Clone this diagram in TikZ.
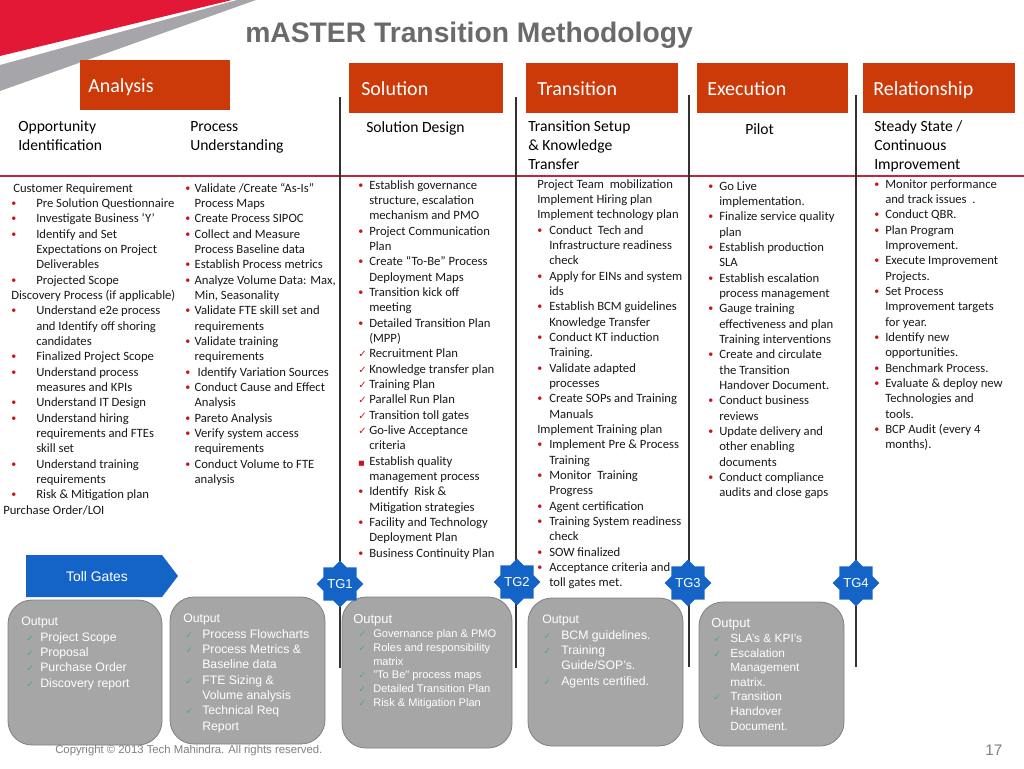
\documentclass[tikz,border=0pt]{standalone}
\usepackage{fontspec}
\setmainfont{Carlito}
\newfontfamily\arial{Liberation Sans}
\newfontfamily\dejavu{DejaVu Sans}
\usetikzlibrary{shapes.geometric}
\newdimen\px \px=0.75pt
\definecolor{tmred}{RGB}{227,24,55}
\definecolor{swgray}{RGB}{165,165,170}
\definecolor{hdr}{RGB}{204,58,10}
\definecolor{titlegray}{RGB}{106,106,106}
\definecolor{bred}{RGB}{200,20,30}
\definecolor{tgblue}{RGB}{20,100,200}
\definecolor{outgray}{RGB}{166,166,166}
\definecolor{outedge}{RGB}{128,128,128}
\definecolor{chk}{RGB}{79,166,150}
\definecolor{rulered}{RGB}{190,40,60}
\definecolor{linegray}{RGB}{50,50,50}
\newcommand\bu[2]{\makebox[#1\px][l]{\textcolor{bred}{\raisebox{0.7pt}{\fontsize{7.5}{8}\selectfont\textbullet}}}#2}
\newcommand\bsq[2]{\makebox[#1\px][l]{\textcolor{bred}{\dejavu\fontsize{5}{6}\selectfont ■}}#2}
\newcommand\ck[2]{\makebox[#1\px][l]{\textcolor{bred}{\dejavu\fontsize{7.5}{8}\selectfont ✓}}#2}
\newcommand\cn[2]{\hspace*{#1\px}#2}
\newcommand\ok[3]{\hspace*{#1\px}\makebox[#2\px][l]{\textcolor{chk}{\dejavu\fontsize{7}{8}\selectfont ✓}}#3}
\newcommand\oc[2]{\hspace*{#1\px}#2}
\begin{document}
\begin{tikzpicture}[x=0.75pt,y=-0.75pt,
  colbody/.style={anchor=north west, inner sep=0pt, align=left, font=\fontsize{9.5}{11.5}\selectfont, text=black!90},
  subhead/.style={anchor=north west, inner sep=0pt, align=left, font=\fontsize{11.7}{14.25}\selectfont, text=black},
  hdrbox/.style={anchor=north west, fill=hdr, draw=none, inner sep=0pt, minimum height=37.5pt},
  hdrlab/.style={anchor=base west, inner sep=0pt, text=white, font=\fontsize{15}{18}\selectfont},
  outbox/.style={fill=outgray, draw=outedge, line width=0.6pt, rounded corners=18pt, inner sep=0pt},
  outtxt/.style={anchor=north west, inner sep=0pt, align=left, text=white},
  tgstar/.style={star, star points=8, star point ratio=1.31, fill=tgblue, draw=none, minimum size=33pt, inner sep=0pt, text=white, font=\arial\fontsize{9.75}{10}\selectfont},
  vline/.style={draw=linegray, line width=1.1pt}
]
\useasboundingbox (0,0) rectangle (1024,768);
\fill[white] (0,0) rectangle (1024,768);
% swoosh
\fill[tmred] (0,0) -- (232,0) -- (0,56) -- cycle;
\fill[swgray] (237,0) -- (256,0) -- (0,91) -- (0,65) -- cycle;
% title
\node[anchor=base west, inner sep=0pt, font=\arial\bfseries\fontsize{21.2}{24}\selectfont, text=titlegray] (title) at (245,42) {mASTER Transition Methodology};
% red rule
\coordinate (rl) at (0,176);
\coordinate (rr) at (1024,176);
\draw[draw=rulered, line width=0.8pt] (rl) -- (rr);
% vertical lines
\coordinate (v1t) at (340,97);  \coordinate (v1b) at (340,668);
\coordinate (v2t) at (516,97);  \coordinate (v2b) at (516,668);
\coordinate (v3t) at (689,95);  \coordinate (v3b) at (689,667);
\coordinate (v4t) at (856,95);  \coordinate (v4b) at (856,667);
\draw[vline] (v1t) -- (v1b);
\draw[vline] (v2t) -- (v2b);
\draw[vline] (v3t) -- (v3b);
\draw[vline] (v4t) -- (v4b);
% header boxes
\node[hdrbox, minimum width=112.5pt] (hA) at (80,60) {};
\node[hdrbox, minimum width=115.5pt] (hS) at (349,63) {};
\node[hdrbox, minimum width=114pt] (hT) at (526,63) {};
\node[hdrbox, minimum width=113.25pt] (hE) at (697,63) {};
\node[hdrbox, minimum width=114pt] (hR) at (863,63) {};
\node[hdrlab] (lA) at (88,92) {Analysis};
\node[hdrlab] (lS) at (361,95) {Solution};
\node[hdrlab] (lT) at (537,95) {Transition};
\node[hdrlab] (lE) at (707,95) {Execution};
\node[hdrlab] (lR) at (873,95) {Relationship};
% sub headers
\node[subhead] (s1) at (18,118.4) {\strut Opportunity\\Identification};
\node[subhead] (s2) at (190,118.4) {\strut Process\\Understanding};
\node[subhead] (s3) at (366,119.4) {\strut Solution Design};
\node[subhead] (s4) at (528,118.4) {\strut Transition Setup\\\& Knowledge\\Transfer};
\node[subhead] (s5) at (745,121.4) {\strut Pilot};
\node[subhead] (s6) at (874,118.4) {\strut Steady State /\\Continuous\\Improvement};
% column 1
\node[colbody] (c1) at (11,181) {\strut\hspace*{2\px}Customer Requirement\\
\bu{25}{Pre Solution Questionnaire}\\
\bu{25}{Investigate Business ‘Y’}\\
\bu{25}{Identify and Set}\\
\cn{25}{Expectations on Project}\\
\cn{25}{Deliverables}\\
\bu{25}{Projected Scope}\\
Discovery Process (if applicable)\\
\bu{25}{Understand e2e process}\\
\cn{25}{and Identify off shoring}\\
\cn{25}{candidates}\\
\bu{25}{Finalized Project Scope}\\
\bu{25}{Understand process}\\
\cn{25}{measures and KPIs}\\
\bu{25}{Understand IT Design}\\
\bu{25}{Understand hiring}\\
\cn{25}{requirements and FTEs}\\
\cn{25}{skill set}\\
\bu{25}{Understand training}\\
\cn{25}{requirements}\\
\bu{25}{Risk \& Mitigation plan}\\
\hspace*{-8\px}Purchase Order/LOI};
% column 2
\node[colbody] (c2) at (185,181) {\strut\bu{9.3}{Validate /Create “As-Is”}\\
\cn{9.3}{Process Maps}\\
\bu{9.3}{Create Process SIPOC}\\
\bu{9.3}{Collect and Measure}\\
\cn{9.3}{Process Baseline data}\\
\bu{9.3}{Establish Process metrics}\\
\bu{9.3}{Analyze Volume Data: Max,}\\
\cn{9.3}{Min, Seasonality}\\
\bu{9.3}{Validate FTE skill set and}\\
\cn{9.3}{requirements}\\
\bu{9.3}{Validate training}\\
\cn{9.3}{requirements}\\
\bu{9.3}{\hspace*{3\px}Identify Variation Sources}\\
\bu{9.3}{Conduct Cause and Effect}\\
\cn{9.3}{Analysis}\\
\bu{9.3}{Pareto Analysis}\\
\bu{9.3}{Verify system access}\\
\cn{9.3}{requirements}\\
\bu{9.3}{Conduct Volume to FTE}\\
\cn{9.3}{analysis}};
% solution column
\node[colbody] (c3) at (358,178) {\strut\bu{11}{Establish governance}\\
\cn{11}{structure, escalation}\\
\cn{11}{mechanism and PMO}\\
\bu{11}{Project Communication}\\
\cn{11}{Plan}\\
\bu{11}{Create “To-Be” Process}\\
\cn{11}{Deployment Maps}\\
\bu{11}{Transition kick off}\\
\cn{11}{meeting}\\
\bu{11}{Detailed Transition Plan}\\
\cn{11}{(MPP)}\\
\ck{11}{Recruitment Plan}\\
\ck{11}{Knowledge transfer plan}\\
\ck{11}{Training Plan}\\
\ck{11}{Parallel Run Plan}\\
\ck{11}{Transition toll gates}\\
\ck{11}{Go-live Acceptance}\\
\cn{11}{criteria}\\
\bsq{11}{Establish quality}\\
\cn{11}{management process}\\
\bu{11}{Identify\ \ Risk \&}\\
\cn{11}{Mitigation strategies}\\
\bu{11}{Facility and Technology}\\
\cn{11}{Deployment Plan}\\
\bu{11}{Business Continuity Plan}};
% transition column
\node[colbody] (c4) at (537,177) {\strut Project Team\ \ mobilization\\
Implement Hiring plan\\
Implement technology plan\\
\bu{12}{Conduct\ \ Tech and}\\
\cn{12}{Infrastructure readiness}\\
\cn{12}{check}\\
\bu{12}{Apply for EINs and system}\\
\cn{12}{ids}\\
\bu{12}{Establish BCM guidelines}\\
\cn{12}{Knowledge Transfer}\\
\bu{12}{Conduct KT induction}\\
\cn{12}{Training.}\\
\bu{12}{Validate adapted}\\
\cn{12}{processes}\\
\bu{12}{Create SOPs and Training}\\
\cn{12}{Manuals}\\
Implement Training plan\\
\bu{12}{Implement Pre \& Process}\\
\cn{12}{Training}\\
\bu{12}{Monitor\ \ Training}\\
\cn{12}{Progress}\\
\bu{12}{Agent certification}\\
\bu{12}{Training System readiness}\\
\cn{12}{check}\\
\bu{12}{SOW finalized}\\
\bu{12}{Acceptance criteria and}\\
\cn{12}{toll gates met.}};
% execution column
\node[colbody] (c5) at (708,179) {\strut\bu{11}{Go Live}\\
\cn{11}{implementation.}\\
\bu{11}{Finalize service quality}\\
\cn{11}{plan}\\
\bu{11}{Establish production}\\
\cn{11}{SLA}\\
\bu{11}{Establish escalation}\\
\cn{11}{process management}\\
\bu{11}{Gauge training}\\
\cn{11}{effectiveness and plan}\\
\cn{11}{Training interventions}\\
\bu{11}{Create and circulate}\\
\cn{11}{the Transition}\\
\cn{11}{Handover Document.}\\
\bu{11}{Conduct business}\\
\cn{11}{reviews}\\
\bu{11}{Update delivery and}\\
\cn{11}{other enabling}\\
\cn{11}{documents}\\
\bu{11}{Conduct compliance}\\
\cn{11}{audits and close gaps}};
% relationship column
\node[colbody] (c6) at (874,177) {\strut\bu{11}{Monitor performance}\\
\cn{11}{and track issues\ \ .}\\
\bu{11}{Conduct QBR.}\\
\bu{11}{Plan Program}\\
\cn{11}{Improvement.}\\
\bu{11}{Execute Improvement}\\
\cn{11}{Projects.}\\
\bu{11}{Set Process}\\
\cn{11}{Improvement targets}\\
\cn{11}{for year.}\\
\bu{11}{Identify new}\\
\cn{11}{opportunities.}\\
\bu{11}{Benchmark Process.}\\
\bu{11}{Evaluate \& deploy new}\\
\cn{11}{Technologies and}\\
\cn{11}{tools.}\\
\bu{11}{BCP Audit (every 4}\\
\cn{11}{months).}};
% toll gates arrow
\fill[tgblue] (26,555) -- (162,555) -- (178,576) -- (162,597) -- (26,597) -- cycle;
\node[anchor=base, inner sep=0pt, text=white, font=\arial\fontsize{10.4}{12}\selectfont] (tgl) at (97,581) {Toll Gates};
% output boxes
\node[outbox, minimum width=115.5pt, minimum height=108.75pt] (o1) at (85,672.5) {};
\node[outbox, minimum width=116.25pt, minimum height=110.25pt] (o2) at (247.5,670.5) {};
\node[outbox, minimum width=127.5pt, minimum height=113.25pt] (o3) at (427,672.5) {};
\node[outbox, minimum width=116.25pt, minimum height=111pt] (o4) at (605.5,672) {};
\node[outbox, minimum width=108.75pt, minimum height=108pt] (o5) at (771.5,674) {};
\node[outtxt, font=\arial\fontsize{9.2}{11.5}\selectfont] (t1) at (21,614.7) {\strut Output\\
\ok{5}{14}{Project Scope}\\
\ok{5}{14}{Proposal}\\
\ok{5}{14}{Purchase Order}\\
\ok{5}{14}{Discovery report}};
\node[outtxt, font=\arial\fontsize{9.2}{11.5}\selectfont] (t2) at (183,611.7) {\strut Output\\
\ok{2}{17}{Process Flowcharts}\\
\ok{2}{17}{Process Metrics \&}\\
\oc{19}{Baseline data}\\
\ok{2}{17}{FTE Sizing \&}\\
\oc{19}{Volume analysis}\\
\ok{2}{17}{Technical Req}\\
\oc{19}{Report}};
\node[outtxt, font=\arial\fontsize{8.3}{10.3}\selectfont] (t3) at (353,614) {\strut{\fontsize{9.75}{10.3}\selectfont Output}\\
\ok{5}{15}{Governance plan \& PMO}\\
\ok{5}{15}{Roles and responsibility}\\
\oc{20}{matrix}\\
\ok{5}{15}{"To Be" process maps}\\
\ok{5}{15}{Detailed Transition Plan}\\
\ok{5}{15}{Risk \& Mitigation Plan}};
\node[outtxt, font=\arial\fontsize{9.2}{11.5}\selectfont] (t4) at (542,612.7) {\strut Output\\
\ok{1}{18}{BCM guidelines.}\\
\ok{1}{18}{Training}\\
\oc{19}{Guide/SOP’s.}\\
\ok{1}{18}{Agents certified.}};
\node[outtxt, font=\arial\fontsize{8.9}{10.95}\selectfont] (t5) at (711,617.5) {\strut{\fontsize{9.75}{10.95}\selectfont Output}\\
\ok{2}{17}{SLA’s \& KPI’s}\\
\ok{2}{17}{Escalation}\\
\oc{19}{Management}\\
\oc{19}{matrix.}\\
\ok{2}{17}{Transition}\\
\oc{19}{Handover}\\
\oc{19}{Document.}};
% toll gate stars
\node[tgstar] (tg1) at (340,584) {TG1};
\node[tgstar] (tg2) at (517,582) {TG2};
\node[tgstar] (tg3) at (688,583) {TG3};
\node[tgstar] (tg4) at (856,583) {TG4};
% footer
\node[anchor=base west, inner sep=0pt, text=gray, font=\arial\fontsize{8.5}{10}\selectfont] (cp) at (55,753) {Copyright © 2013 Tech Mahindra. All rights reserved.};
\node[anchor=base west, inner sep=0pt, text=gray, font=\arial\fontsize{11.5}{13}\selectfont] (pg) at (985,755) {17};
\end{tikzpicture}
\end{document}
